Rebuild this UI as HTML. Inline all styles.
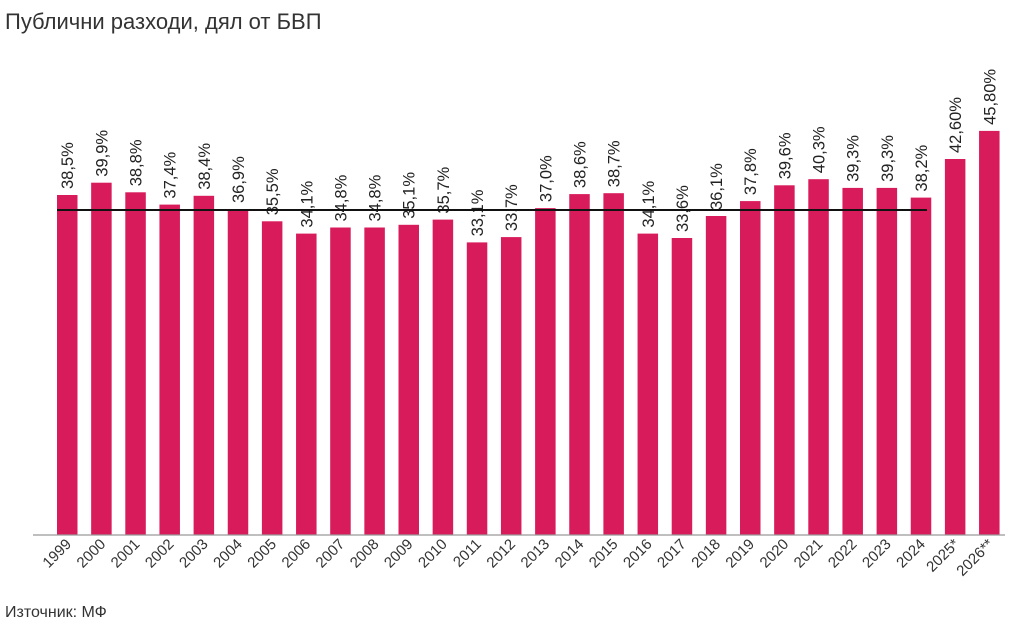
<!DOCTYPE html>
<html><head><meta charset="utf-8"><style>
body{margin:0;background:#fff;width:1024px;height:627px;overflow:hidden}
</style></head><body>
<svg width="1024" height="627" xmlns="http://www.w3.org/2000/svg" font-family="Liberation Sans, DejaVu Sans, sans-serif">
<text x="5" y="29" font-size="22" fill="#333">Публични разходи, дял от БВП</text>
<g fill="#d81b5b">
<rect x="57" y="195" width="20.5" height="340"/>
<rect x="91.15" y="182.7" width="20.5" height="352.3"/>
<rect x="125.3" y="192.3" width="20.5" height="342.7"/>
<rect x="159.45" y="204.6" width="20.5" height="330.4"/>
<rect x="193.6" y="195.8" width="20.5" height="339.2"/>
<rect x="227.75" y="209" width="20.5" height="326"/>
<rect x="261.9" y="221.3" width="20.5" height="313.7"/>
<rect x="296.05" y="233.6" width="20.5" height="301.4"/>
<rect x="330.2" y="227.5" width="20.5" height="307.5"/>
<rect x="364.35" y="227.5" width="20.5" height="307.5"/>
<rect x="398.5" y="224.8" width="20.5" height="310.2"/>
<rect x="432.65" y="219.6" width="20.5" height="315.4"/>
<rect x="466.8" y="242.4" width="20.5" height="292.6"/>
<rect x="500.95" y="237.1" width="20.5" height="297.9"/>
<rect x="535.1" y="208.1" width="20.5" height="326.9"/>
<rect x="569.25" y="194.1" width="20.5" height="340.9"/>
<rect x="603.4" y="193.2" width="20.5" height="341.8"/>
<rect x="637.55" y="233.6" width="20.5" height="301.4"/>
<rect x="671.7" y="238" width="20.5" height="297"/>
<rect x="705.85" y="216" width="20.5" height="319"/>
<rect x="740" y="201.1" width="20.5" height="333.9"/>
<rect x="774.15" y="185.3" width="20.5" height="349.7"/>
<rect x="808.3" y="179.2" width="20.5" height="355.8"/>
<rect x="842.45" y="187.9" width="20.5" height="347.1"/>
<rect x="876.6" y="187.9" width="20.5" height="347.1"/>
<rect x="910.75" y="197.6" width="20.5" height="337.4"/>
<rect x="944.9" y="159" width="20.5" height="376"/>
<rect x="979.05" y="130.9" width="20.5" height="404.1"/>
</g>
<g font-size="16.5" fill="#222">
<text transform="translate(73.2,189) rotate(-90)">38,5%</text>
<text transform="translate(107.4,176.7) rotate(-90)">39,9%</text>
<text transform="translate(141.5,186.3) rotate(-90)">38,8%</text>
<text transform="translate(175.7,198.6) rotate(-90)">37,4%</text>
<text transform="translate(209.8,189.8) rotate(-90)">38,4%</text>
<text transform="translate(244,203) rotate(-90)">36,9%</text>
<text transform="translate(278.1,215.3) rotate(-90)">35,5%</text>
<text transform="translate(312.3,227.6) rotate(-90)">34,1%</text>
<text transform="translate(346.4,221.5) rotate(-90)">34,8%</text>
<text transform="translate(380.6,221.5) rotate(-90)">34,8%</text>
<text transform="translate(414.7,218.8) rotate(-90)">35,1%</text>
<text transform="translate(448.9,213.6) rotate(-90)">35,7%</text>
<text transform="translate(483,236.4) rotate(-90)">33,1%</text>
<text transform="translate(517.2,231.1) rotate(-90)">33,7%</text>
<text transform="translate(551.3,202.1) rotate(-90)">37,0%</text>
<text transform="translate(585.5,188.1) rotate(-90)">38,6%</text>
<text transform="translate(619.6,187.2) rotate(-90)">38,7%</text>
<text transform="translate(653.8,227.6) rotate(-90)">34,1%</text>
<text transform="translate(687.9,232) rotate(-90)">33,6%</text>
<text transform="translate(722.1,210) rotate(-90)">36,1%</text>
<text transform="translate(756.2,195.1) rotate(-90)">37,8%</text>
<text transform="translate(790.4,179.3) rotate(-90)">39,6%</text>
<text transform="translate(824.5,173.2) rotate(-90)">40,3%</text>
<text transform="translate(858.7,181.9) rotate(-90)">39,3%</text>
<text transform="translate(892.8,181.9) rotate(-90)">39,3%</text>
<text transform="translate(927,191.6) rotate(-90)">38,2%</text>
<text transform="translate(961.1,153) rotate(-90)">42,60%</text>
<text transform="translate(995.3,124.9) rotate(-90)">45,80%</text>
</g>
<line x1="33" y1="535" x2="1005" y2="535" stroke="#999" stroke-width="1.2"/>
<line x1="57" y1="210" x2="927" y2="210" stroke="#111" stroke-width="2"/>
<g font-size="15" fill="#333" text-anchor="end">
<text transform="translate(72.2,545) rotate(-45)">1999</text>
<text transform="translate(106.4,545) rotate(-45)">2000</text>
<text transform="translate(140.5,545) rotate(-45)">2001</text>
<text transform="translate(174.7,545) rotate(-45)">2002</text>
<text transform="translate(208.8,545) rotate(-45)">2003</text>
<text transform="translate(243,545) rotate(-45)">2004</text>
<text transform="translate(277.1,545) rotate(-45)">2005</text>
<text transform="translate(311.3,545) rotate(-45)">2006</text>
<text transform="translate(345.4,545) rotate(-45)">2007</text>
<text transform="translate(379.6,545) rotate(-45)">2008</text>
<text transform="translate(413.7,545) rotate(-45)">2009</text>
<text transform="translate(447.9,545) rotate(-45)">2010</text>
<text transform="translate(482,545) rotate(-45)">2011</text>
<text transform="translate(516.2,545) rotate(-45)">2012</text>
<text transform="translate(550.3,545) rotate(-45)">2013</text>
<text transform="translate(584.5,545) rotate(-45)">2014</text>
<text transform="translate(618.6,545) rotate(-45)">2015</text>
<text transform="translate(652.8,545) rotate(-45)">2016</text>
<text transform="translate(686.9,545) rotate(-45)">2017</text>
<text transform="translate(721.1,545) rotate(-45)">2018</text>
<text transform="translate(755.2,545) rotate(-45)">2019</text>
<text transform="translate(789.4,545) rotate(-45)">2020</text>
<text transform="translate(823.5,545) rotate(-45)">2021</text>
<text transform="translate(857.7,545) rotate(-45)">2022</text>
<text transform="translate(891.8,545) rotate(-45)">2023</text>
<text transform="translate(926,545) rotate(-45)">2024</text>
<text transform="translate(960.1,545) rotate(-45)">2025*</text>
<text transform="translate(994.3,545) rotate(-45)">2026**</text>
</g>
<text x="5" y="617" font-size="16" fill="#333">Източник: МФ</text>
</svg>
</body></html>
